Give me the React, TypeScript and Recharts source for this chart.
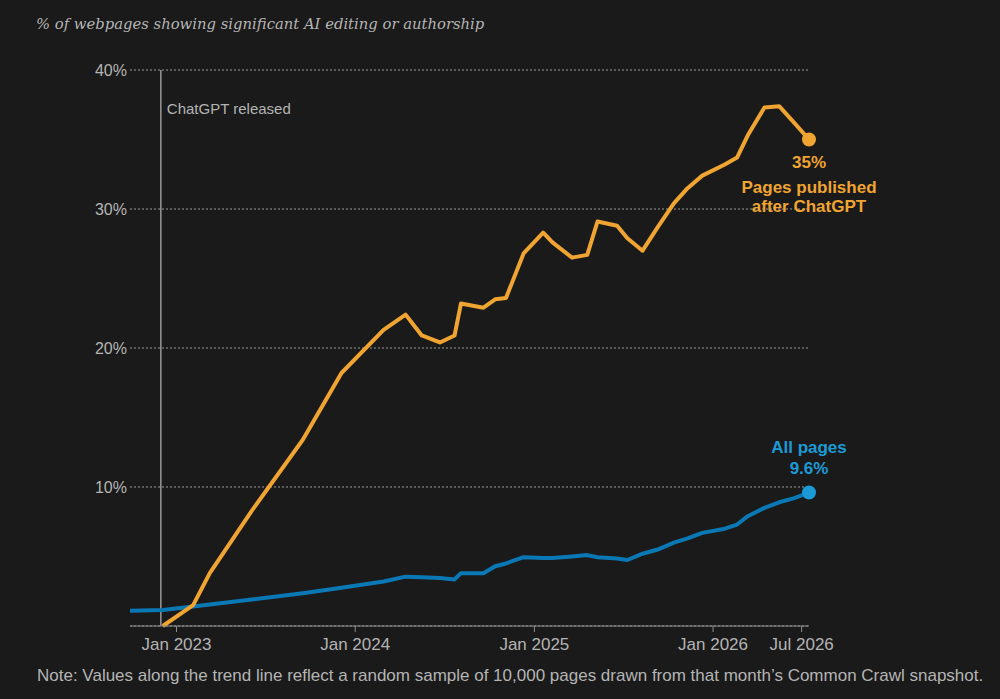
import { CartesianGrid, Line, LineChart, ReferenceLine, XAxis, YAxis } from "recharts";

const BG = "#1a1a1a";
const MUTED = "#b4b4b4";
const ORANGE = "#f0a431";
const BLUE = "#0b78b6";
const BLUE_TEXT = "#1c9ad6";

// Common Crawl snapshot dates (approx.)
const snapshotDates = [
  "2022-09-28", "2022-12-04", "2023-02-04", "2023-03-10", "2023-06-04", "2023-09-16",
  "2023-12-04", "2024-02-28", "2024-04-13", "2024-05-16", "2024-06-22", "2024-07-22",
  "2024-08-04", "2024-09-19", "2024-10-13", "2024-11-04", "2024-12-10", "2025-01-19",
  "2025-02-07", "2025-03-19", "2025-04-19", "2025-05-10", "2025-06-19", "2025-07-10",
  "2025-08-10", "2025-09-10", "2025-10-13", "2025-11-10", "2025-12-10", "2026-01-25",
  "2026-02-19", "2026-03-13", "2026-04-16", "2026-05-16", "2026-06-16", "2026-07-16",
];

// % of pages published after ChatGPT
const afterChatGPT = [
  null, 0, 1.5, 3.8, 8.3, 13.4,
  18.2, 21.3, 22.4, 20.9, 20.4, 20.9,
  23.2, 22.9, 23.5, 23.6, 26.8, 28.3,
  27.6, 26.5, 26.7, 29.1, 28.8, 27.9,
  27.0, 28.7, 30.4, 31.5, 32.4, 33.2,
  33.7, 35.3, 37.3, 37.4, 36.2, 35.0,
];

// % of all pages
const allPages = [
  1.1, 1.15, 1.4, 1.55, 1.9, 2.35,
  2.75, 3.2, 3.55, 3.5, 3.45, 3.35,
  3.8, 3.8, 4.3, 4.5, 4.95, 4.9,
  4.9, 5.0, 5.1, 4.95, 4.85, 4.75,
  5.2, 5.5, 6.0, 6.3, 6.7, 7.0,
  7.3, 7.9, 8.5, 8.9, 9.2, 9.6,
];

const xTickDates = ["2023-01-01", "2024-01-01", "2025-01-01", "2026-01-01", "2026-07-01"];
const xTickLabels = ["Jan 2023", "Jan 2024", "Jan 2025", "Jan 2026", "Jul 2026"];
const yTicks = [10, 20, 30, 40];
const chatGptRelease = "2022-11-30";

const data = snapshotDates.map((d, i) => ({
  t: Date.parse(d),
  after: afterChatGPT[i],
  all: allPages[i],
}));

const last = data.length - 1;
const xTicks = xTickDates.map((d) => Date.parse(d));

const sans = "'Liberation Sans', Arial, sans-serif";

function AfterDot(props: any) {
  const { cx, cy, index, value } = props;
  if (index !== last) return <g key={`a${index}`} />;
  return (
    <g key={`a${index}`}>
      <circle cx={cx} cy={cy} r={7} fill={ORANGE} />
      <g fill={ORANGE} fontFamily={sans} fontWeight={700} fontSize={17} textAnchor="middle">
        <text x={cx} y={cy + 28}>{`${Math.round(value)}%`}</text>
        <text x={cx} y={cy + 53}>Pages published</text>
        <text x={cx} y={cy + 72}>after ChatGPT</text>
      </g>
    </g>
  );
}

function AllDot(props: any) {
  const { cx, cy, index, value } = props;
  if (index !== last) return <g key={`b${index}`} />;
  return (
    <g key={`b${index}`}>
      <circle cx={cx} cy={cy} r={7} fill={BLUE_TEXT} />
      <g fill={BLUE_TEXT} fontFamily={sans} fontWeight={700} fontSize={17} textAnchor="middle">
        <text x={cx} y={cy - 40}>All pages</text>
        <text x={cx} y={cy - 19}>{`${value.toFixed(1)}%`}</text>
      </g>
    </g>
  );
}

function ReleaseLabel(props: any) {
  const { viewBox } = props;
  return (
    <text x={viewBox.x + 6} y={viewBox.y + 44} fill={MUTED} fontFamily={sans} fontSize={15}>
      ChatGPT released
    </text>
  );
}

export default function App() {
  return (
    <div
      style={{
        position: "fixed",
        left: 0,
        top: 0,
        width: 1000,
        height: 699,
        background: BG,
        overflow: "hidden",
      }}
    >
      <div
        style={{
          position: "absolute",
          left: 36,
          top: 15,
          color: MUTED,
          fontFamily: "'DejaVu Serif', serif",
          fontStyle: "italic",
          fontSize: 14.8,
          whiteSpace: "nowrap",
        }}
      >
        % of webpages showing significant AI editing or authorship
      </div>
      <div style={{ position: "absolute", left: 0, top: 0 }}>
        <LineChart width={1000} height={699} data={data} margin={{ top: 70, right: 191, bottom: 43, left: 70 }}>
          <CartesianGrid vertical={false} stroke="#9a9a9a" strokeDasharray="2 2" />
          <XAxis
            dataKey="t"
            type="number"
            domain={["dataMin", "dataMax"]}
            ticks={xTicks}
            tickFormatter={(v) => xTickLabels[xTicks.indexOf(v)]}
            stroke="#8c8c8c"
            tickSize={6}
            tickMargin={6}
            tick={{ fill: MUTED, fontSize: 17, fontFamily: sans }}
          />
          <YAxis
            width={60}
            domain={[0, 40]}
            ticks={yTicks}
            axisLine={false}
            tickLine={false}
            tickSize={0}
            tickMargin={3}
            tickFormatter={(v) => `${v}%`}
            tick={{ fill: MUTED, fontSize: 16, fontFamily: sans }}
          />
          <ReferenceLine x={Date.parse(chatGptRelease)} stroke="#9a9a9a" strokeWidth={1.5} label={<ReleaseLabel />} />
          <Line
            dataKey="all"
            stroke={BLUE}
            strokeWidth={4}
            strokeLinejoin="round"
            dot={AllDot}
            activeDot={false}
            isAnimationActive={false}
          />
          <Line
            dataKey="after"
            stroke={ORANGE}
            strokeWidth={4}
            strokeLinejoin="round"
            dot={AfterDot}
            activeDot={false}
            isAnimationActive={false}
          />
        </LineChart>
      </div>
      <div
        style={{
          position: "absolute",
          left: 37,
          top: 666,
          color: MUTED,
          fontFamily: sans,
          fontSize: 17,
          whiteSpace: "nowrap",
        }}
      >
        Note: Values along the trend line reflect a random sample of 10,000 pages drawn from that month’s Common Crawl snapshot.
      </div>
    </div>
  );
}
